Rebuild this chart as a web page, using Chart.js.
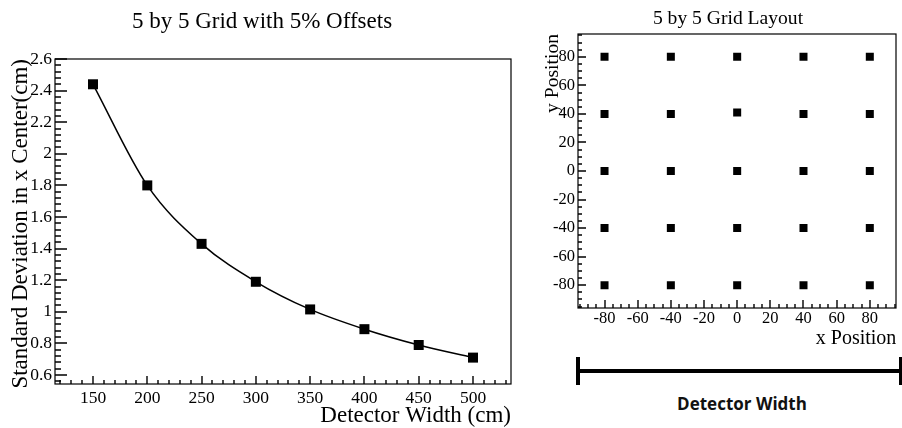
<!DOCTYPE html>
<html>
<head>
<meta charset="utf-8">
<title>5 by 5 Grid</title>
<script src="https://cdn.jsdelivr.net/npm/chart.js@4.4.1/dist/chart.umd.min.js"></script>
<style>
  body { margin: 0; background: #fff; }
  #wrap { position: relative; width: 902px; height: 428px; overflow: hidden; }
  #sigmaChart { position: absolute; left: 0; top: 0; }
  #gridChart { position: absolute; left: 530px; top: 0; }
  .bar { position: absolute; background: #000; }
  #barLabel {
    position: absolute; left: 640px; width: 204px; top: 393px;
    text-align: center; font: 700 17px "Open Sans", sans-serif; color: #111;
    line-height: 22px;
  }
</style>
</head>
<body>
<div id="wrap">
  <canvas id="sigmaChart" width="530" height="428"></canvas>
  <canvas id="gridChart" width="372" height="350"></canvas>
  <div class="bar" style="left:578px; top:369px; width:323px; height:4px;"></div>
  <div class="bar" style="left:576px; top:357px; width:4px; height:28px;"></div>
  <div class="bar" style="left:899px; top:357px; width:4px; height:28px;"></div>
  <div id="barLabel">Detector Width</div>
</div>
<script>
// Left plot: spread of the x centre against detector width
const detectorWidths = [150, 200, 250, 300, 350, 400, 450, 500];
const sigmaCenter = [2.44, 1.80, 1.43, 1.19, 1.015, 0.89, 0.79, 0.71];
const widthTicks = [150, 200, 250, 300, 350, 400, 450, 500];
const sigmaTicks = [0.6, 0.8, 1, 1.2, 1.4, 1.6, 1.8, 2, 2.2, 2.4, 2.6];
const sigmaTickLabels = ['0.6', '0.8', '1', '1.2', '1.4', '1.6', '1.8', '2', '2.2', '2.4', '2.6'];

// Right plot: detector positions of the 5 by 5 layout
const gridX = [-80, -40, 0, 40, 80,  -80, -40, 0, 40, 80,  -80, -40, 0, 40, 80,  -80, -40, 0, 40, 80,  -80, -40, 0, 40, 80];
const gridY = [80, 80, 80, 80, 80,  40, 40, 41, 40, 40,  0, 0, 0, 0, 0,  -40, -40, -40, -40, -40,  -80, -80, -80, -80, -80];
const positionTicks = [-80, -60, -40, -20, 0, 20, 40, 60, 80];

const SERIF = '"Liberation Serif", "Times New Roman", serif';

// ROOT style frame: box round the plot, ticks pointing inwards, title on top
const rootFrame = {
    id: 'rootFrame',
    afterDraw(chart, args, opts) {
        const { ctx, chartArea: a } = chart;
        const x = chart.scales.x;
        const y = chart.scales.y;
        ctx.save();
        ctx.strokeStyle = '#000';
        ctx.lineWidth = 1.4;
        ctx.beginPath();

        const xMajor = x.ticks.map(t => t.value);
        for (let i = Math.ceil(x.min / opts.xStep - 1e-9); i * opts.xStep <= x.max + 1e-9; i++) {
            const v = i * opts.xStep;
            const px = Math.round(x.getPixelForValue(v));
            const major = xMajor.some(m => Math.abs(m - v) < 1e-6);
            ctx.moveTo(px, a.bottom);
            ctx.lineTo(px, a.bottom - (major ? opts.xMajorLen : opts.xMinorLen));
        }

        const yMajor = y.ticks.map(t => t.value);
        for (let i = Math.ceil(y.min / opts.yStep - 1e-9); i * opts.yStep <= y.max + 1e-9; i++) {
            const v = i * opts.yStep;
            const py = Math.round(y.getPixelForValue(v));
            const major = yMajor.some(m => Math.abs(m - v) < 1e-6);
            ctx.moveTo(a.left, py);
            ctx.lineTo(a.left + (major ? opts.yMajorLen : opts.yMinorLen), py);
        }
        ctx.stroke();

        ctx.lineWidth = 1.2;
        ctx.strokeRect(Math.round(a.left), Math.round(a.top),
            Math.round(a.right - a.left), Math.round(a.bottom - a.top));

        ctx.fillStyle = '#000';
        ctx.font = opts.titleSize + 'px ' + SERIF;
        ctx.textAlign = 'center';
        ctx.textBaseline = 'alphabetic';
        ctx.fillText(opts.title, opts.titleX, opts.titleY);
        ctx.restore();
    }
};

function fixedTicks(values) {
    return function(scale) {
        scale.ticks = values.map(v => ({ value: v }));
    };
}

// Function to build the standard deviation chart
function initSigmaChart() {
    const ctx = document.getElementById('sigmaChart').getContext('2d');
    new Chart(ctx, {
        type: 'scatter',
        data: {
            datasets: [{
                data: detectorWidths.map((w, i) => ({ x: w, y: sigmaCenter[i] })),
                showLine: true,
                cubicInterpolationMode: 'monotone',
                borderColor: '#000',
                borderWidth: 1.5,
                backgroundColor: '#000',
                pointStyle: 'rect',
                pointRadius: 7.07,
                pointBorderWidth: 0
            }]
        },
        options: {
            responsive: false,
            animation: false,
            layout: { padding: { top: 59, right: 19, left: 0, bottom: 0 } },
            plugins: {
                legend: { display: false },
                tooltip: { enabled: false },
                rootFrame: {
                    xStep: 10, xMajorLen: 8, xMinorLen: 4,
                    yStep: 0.04, yMajorLen: 12, yMinorLen: 6,
                    title: '5 by 5 Grid with 5% Offsets',
                    titleSize: 23, titleX: 262, titleY: 28
                }
            },
            scales: {
                x: {
                    type: 'linear',
                    min: 115,
                    max: 535,
                    afterBuildTicks: fixedTicks(widthTicks),
                    afterFit: (scale) => { scale.height = 44; },
                    grid: { display: false, drawTicks: false },
                    border: { display: false },
                    ticks: {
                        padding: 6,
                        color: '#000',
                        font: { family: SERIF, size: 17.5, lineHeight: 1 },
                        callback: (v) => String(v)
                    },
                    title: {
                        display: true,
                        text: 'Detector Width (cm)',
                        align: 'end',
                        color: '#000',
                        font: { family: SERIF, size: 23, lineHeight: 1 },
                        padding: { top: 0, bottom: 0.5 }
                    }
                },
                y: {
                    type: 'linear',
                    min: 0.543,
                    max: 2.6,
                    afterBuildTicks: fixedTicks(sigmaTicks),
                    afterFit: (scale) => { scale.width = 55; },
                    grid: { display: false, drawTicks: false },
                    border: { display: false },
                    ticks: {
                        padding: 3,
                        color: '#000',
                        font: { family: SERIF, size: 17.5, lineHeight: 1 },
                        callback: (v, i) => sigmaTickLabels[i]
                    },
                    title: {
                        display: true,
                        text: 'Standard Deviation in x Center(cm)',
                        align: 'end',
                        color: '#000',
                        font: { family: SERIF, size: 23, lineHeight: 1 },
                        padding: { top: 9.7, bottom: 0 }
                    }
                }
            }
        },
        plugins: [rootFrame]
    });
}

// Function to build the grid layout chart
function initGridChart() {
    const ctx = document.getElementById('gridChart').getContext('2d');
    new Chart(ctx, {
        type: 'scatter',
        data: {
            datasets: [{
                data: gridX.map((gx, i) => ({ x: gx, y: gridY[i] })),
                backgroundColor: '#000',
                pointStyle: 'rect',
                pointRadius: 5.66,
                pointBorderWidth: 0
            }]
        },
        options: {
            responsive: false,
            animation: false,
            layout: { padding: { top: 34, right: 1, left: 0, bottom: 0 } },
            plugins: {
                legend: { display: false },
                tooltip: { enabled: false },
                rootFrame: {
                    xStep: 5, xMajorLen: 8, xMinorLen: 4,
                    yStep: 5, yMajorLen: 8, yMinorLen: 4,
                    title: '5 by 5 Grid Layout',
                    titleSize: 19.6, titleX: 198, titleY: 24
                }
            },
            scales: {
                x: {
                    type: 'linear',
                    min: -96,
                    max: 96,
                    afterBuildTicks: fixedTicks(positionTicks),
                    afterFit: (scale) => { scale.height = 42; },
                    grid: { display: false, drawTicks: false },
                    border: { display: false },
                    ticks: {
                        padding: 2,
                        color: '#000',
                        font: { family: SERIF, size: 16.5, lineHeight: 1 },
                        callback: (v) => String(v)
                    },
                    title: {
                        display: true,
                        text: 'x Position',
                        align: 'end',
                        color: '#000',
                        font: { family: SERIF, size: 20, lineHeight: 1 },
                        padding: { top: 0, bottom: 1.7 }
                    }
                },
                y: {
                    type: 'linear',
                    min: -96,
                    max: 96,
                    afterBuildTicks: fixedTicks(positionTicks),
                    afterFit: (scale) => { scale.width = 48; },
                    grid: { display: false, drawTicks: false },
                    border: { display: false },
                    ticks: {
                        padding: 3,
                        color: '#000',
                        font: { family: SERIF, size: 16.5, lineHeight: 1 },
                        callback: (v) => String(v)
                    },
                    title: {
                        display: true,
                        text: 'y Position',
                        align: 'end',
                        color: '#000',
                        font: { family: SERIF, size: 19.6, lineHeight: 1 },
                        padding: { top: 13, bottom: 0 }
                    }
                }
            }
        },
        plugins: [rootFrame]
    });
}

document.addEventListener('DOMContentLoaded', () => {
    initSigmaChart();
    initGridChart();
});
</script>
</body>
</html>
